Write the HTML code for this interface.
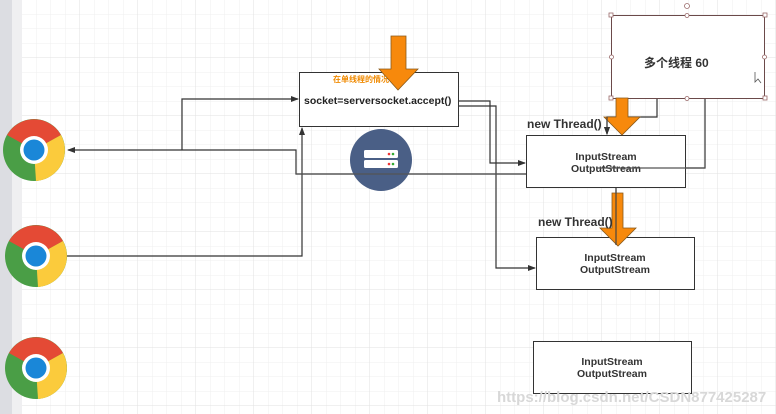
<!DOCTYPE html>
<html><head><meta charset="utf-8"><style>
html,body{margin:0;padding:0;width:776px;height:414px;overflow:hidden;background:#fff}
svg{display:block}
text{font-family:"Liberation Sans","Noto Sans CJK SC",sans-serif;font-weight:bold}
</style></head><body>
<svg width="776" height="414" viewBox="0 0 776 414" xmlns="http://www.w3.org/2000/svg">
<defs>
<pattern id="g" width="14.5" height="14.5" patternUnits="userSpaceOnUse"><path d="M14.5 0V14.5H0" fill="none" stroke="#efefef" stroke-width="1"/></pattern>
<pattern id="G" width="58" height="58" patternUnits="userSpaceOnUse" x="22" y="0"><rect width="58" height="58" fill="url(#g)"/><path d="M58 0V58H0" fill="none" stroke="#e2e2e2" stroke-width="1"/></pattern>
<marker id="a" markerWidth="8" markerHeight="8" refX="7" refY="4" orient="auto" markerUnits="userSpaceOnUse"><path d="M0,1 L8,4 L0,7 Z" fill="#333"/></marker>
<g id="c">
<circle r="31" fill="#4a9e46"/>
<path d="M0 0 L-27 -15 A31 31 0 0 1 27 -15 Z" fill="#e44a35"/>
<path d="M0 0 L27 -15 A31 31 0 0 1 2 31 Z" fill="#fbcb3c"/>
<circle r="14" fill="#fff"/>
<circle r="10.5" fill="#1a87d8"/>
</g>
</defs>
<rect width="776" height="414" fill="url(#G)"/>
<rect x="0" y="0" width="12" height="414" fill="#dcdde2"/>
<rect x="12" y="0" width="10" height="414" fill="#efeff1"/>

<g fill="none" stroke="#333" stroke-width="1.2">
<path d="M182 150 H68" marker-end="url(#a)"/>
<path d="M182 150 V99 H298" marker-end="url(#a)"/>
<path d="M67 256 H302 V128" marker-end="url(#a)"/>
<path d="M182 150 H296 V174 H526"/>
<path d="M458 101 H490 V163 H525" marker-end="url(#a)"/>
<path d="M458 106 H496 V268 H535" marker-end="url(#a)"/>
<path d="M657 98 V117 H607 V134" marker-end="url(#a)"/>
<path d="M705 98 V168 H616 V245" marker-end="url(#a)"/>
</g>

<rect x="299.5" y="72.5" width="159" height="54" fill="#fff" stroke="#333"/>
<text x="333" y="82" font-size="8" fill="#f08a00" font-weight="normal">在单线程的情况</text>
<text x="304" y="104" font-size="10.5" fill="#222">socket=serversocket.accept()</text>
<path d="M391 36 H406 V69 H418 L398 90 L379 69 H391 Z" fill="#f7890c" stroke="#8a5a1a" stroke-width="0.8"/>

<circle cx="381" cy="160" r="31" fill="#4a5f86"/>
<rect x="364" y="150" width="34" height="8" rx="1.5" fill="#fff"/>
<rect x="364" y="160" width="34" height="8" rx="1.5" fill="#fff"/>
<circle cx="389" cy="154" r="1.3" fill="#e33"/><circle cx="393" cy="154" r="1.3" fill="#3a3"/>
<circle cx="389" cy="164" r="1.3" fill="#e33"/><circle cx="393" cy="164" r="1.3" fill="#3a3"/>

<rect x="611.5" y="15.5" width="153" height="83" fill="#fff" stroke="#6b4a4a"/>
<text x="644" y="67" font-size="12" fill="#333">多个线程  60</text>
<g fill="#fff" stroke="#9a6a6a" stroke-width="0.8">
<rect x="609" y="13" width="4" height="4"/><rect x="763" y="13" width="4" height="4"/><rect x="609" y="96" width="4" height="4"/><rect x="763" y="96" width="4" height="4"/>
<circle cx="687" cy="15.5" r="2"/><circle cx="687" cy="98.5" r="2"/><circle cx="611.5" cy="57" r="2"/><circle cx="764.5" cy="57" r="2"/><circle cx="687" cy="6" r="2.5"/>
</g>
<path d="M755 72 V82 L758 79 L761 83" fill="none" stroke="#555" stroke-width="0.8"/>

<rect x="526.5" y="135.5" width="159" height="52" fill="#fff" stroke="#333"/>
<text x="606" y="160" font-size="10.5" fill="#333" text-anchor="middle">InputStream</text>
<text x="606" y="172" font-size="10.5" fill="#333" text-anchor="middle">OutputStream</text>
<path d="M596 168 H705" stroke="#555" stroke-width="1.2" fill="none"/>
<path d="M296 174 H526" stroke="#555" stroke-width="1.2" fill="none"/>
<rect x="536.5" y="237.5" width="158" height="52" fill="#fff" stroke="#333"/>
<text x="615" y="261" font-size="10.5" fill="#333" text-anchor="middle">InputStream</text>
<text x="615" y="273" font-size="10.5" fill="#333" text-anchor="middle">OutputStream</text>
<rect x="533.5" y="341.5" width="158" height="52" fill="#fff" stroke="#333"/>
<text x="612" y="365" font-size="10.5" fill="#333" text-anchor="middle">InputStream</text>
<text x="612" y="377" font-size="10.5" fill="#333" text-anchor="middle">OutputStream</text>

<path d="M616 98 H628 V117 H640 L622 135 L604 117 H616 Z" fill="#f7890c" stroke="#8a5a1a" stroke-width="0.8"/>
<path d="M612 193 H623 V228 H636 L618 246 L600 228 H612 Z" fill="#f7890c" stroke="#8a5a1a" stroke-width="0.8"/>
<path d="M616 190 V245" stroke="#444" stroke-width="1.2" fill="none"/>
<path d="M607 117 V134" stroke="#444" stroke-width="1.2" fill="none" marker-end="url(#a)"/>

<text x="527" y="128" font-size="12" fill="#333">new Thread()</text>
<text x="538" y="226" font-size="12" fill="#333">new Thread()</text>

<use href="#c" x="34" y="150"/>
<use href="#c" x="36" y="256"/>
<use href="#c" x="36" y="368"/>

<text x="497" y="402" font-size="15" fill="#d8d8d8" font-weight="normal">https://blog.csdn.net/CSDN877425287</text>
</svg>
</body></html>
